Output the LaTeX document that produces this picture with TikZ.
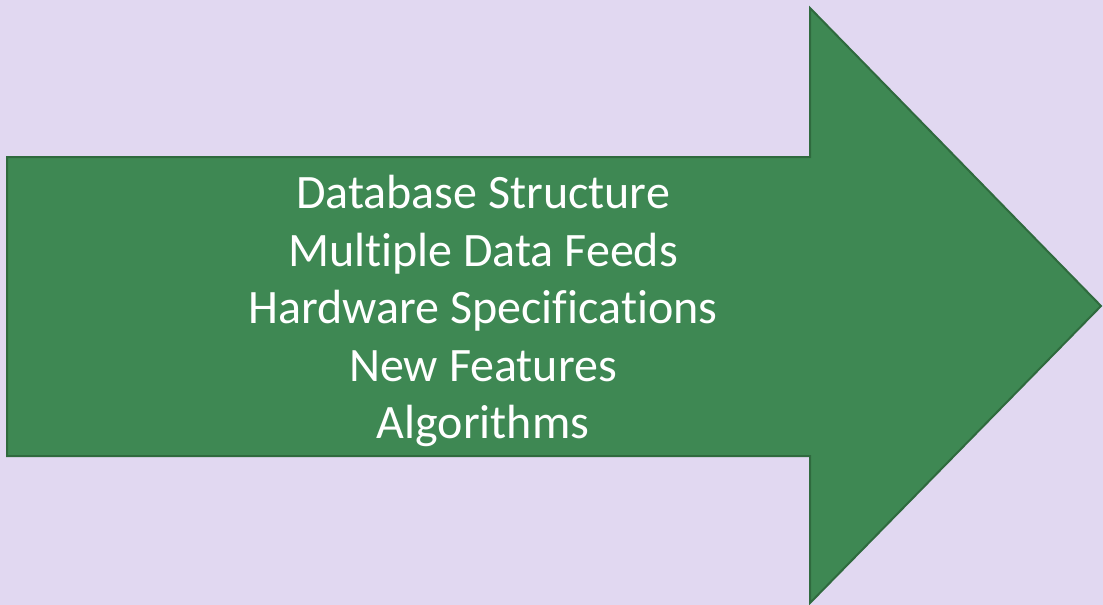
\documentclass[tikz,border=0pt]{standalone}
\usepackage{fontspec}
\setmainfont[Ligatures={NoCommon}]{Carlito}
\definecolor{bg}{HTML}{E1D8F1}
\definecolor{arrowfill}{HTML}{3E8853}
\definecolor{arrowline}{HTML}{2F6A3E}
\begin{document}
\begin{tikzpicture}[x=1pt,y=-1pt,
  bigarrow/.style={fill=arrowfill,draw=arrowline,line width=2pt,line join=miter},
  label/.style={text=white,align=center,font=\fontsize{48}{57.5}\selectfont,inner sep=0pt}]
\fill[bg] (0,0) rectangle (1103,605);
\useasboundingbox (0,0) rectangle (1103,605);
\draw[bigarrow] (7,157) -- (810,157) -- (810,8) -- (1101,306) -- (810,603) -- (810,456) -- (7,456) -- cycle;
\node[label] (txt) at (483,311) {Database Structure\\Multiple Data Feeds\\Hardware Specifications\\New Features\\Algorithms};
\end{tikzpicture}
\end{document}
